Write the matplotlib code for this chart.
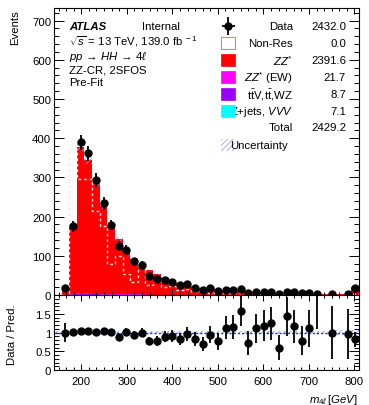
import numpy as np
import matplotlib
matplotlib.use("Agg")
import matplotlib.pyplot as plt
from matplotlib.patches import Rectangle
from matplotlib.ticker import MultipleLocator, FixedLocator

plt.rcParams['font.family'] = 'Liberation Sans'
plt.rcParams['mathtext.fontset'] = 'custom'
plt.rcParams['mathtext.rm'] = 'Liberation Sans'
plt.rcParams['mathtext.it'] = 'Liberation Sans:italic'
plt.rcParams['mathtext.bf'] = 'Liberation Sans:bold'
plt.rcParams['hatch.linewidth'] = 0.6
plt.rcParams['axes.linewidth'] = 0.8

FS = 8.2

# m4l binning: 40 bins, 140 - 810 GeV
edges = np.linspace(140, 810, 41)
centers = 0.5 * (edges[1:] + edges[:-1])

# Observed events per bin
data = [0, 17, 175, 389, 361, 293, 234, 179, 126, 116,
        86, 77, 49, 41, 39, 32, 25, 27, 18, 13,
        17, 11, 13, 13, 15, 5, 8, 8, 8, 3,
        7, 7, 4, 5, 3, 0, 2, 0, 2, 17]
data_err = [0, 4.1, 13.2, 19.7, 19.0, 17.1, 15.3, 13.4, 11.2, 10.8,
            9.3, 8.8, 7.0, 6.4, 6.2, 5.7, 5.0, 5.2, 4.2, 3.6,
            4.1, 3.3, 3.6, 3.6, 3.9, 2.2, 2.8, 2.8, 2.8, 1.7,
            2.6, 2.6, 2.0, 2.2, 1.7, 0, 1.4, 0, 1.4, 4.1]

# Background components (stacked, bottom to top)
zjets = [0, 0.3, 0.6, 0.8, 0.8, 0.7, 0.6, 0.5, 0.5, 0.4,
         0.3, 0.3, 0.2, 0.2, 0.2, 0.1, 0.1, 0.1, 0.1, 0.1,
         0.1, 0.1, 0.1, 0.1, 0.1, 0.1, 0.1, 0.1, 0.1, 0.0,
         0.0, 0.0, 0.0, 0.0, 0.0, 0.0, 0.0, 0.0, 0.0, 0.1]
ttv = [0, 0.1, 0.5, 0.9, 0.9, 0.8, 0.7, 0.6, 0.6, 0.5,
       0.4, 0.4, 0.3, 0.3, 0.3, 0.2, 0.2, 0.2, 0.2, 0.1,
       0.1, 0.1, 0.1, 0.1, 0.1, 0.0, 0.0, 0.0, 0.0, 0.0,
       0.0, 0.0, 0.0, 0.0, 0.0, 0.0, 0.0, 0.0, 0.0, 0.0]
ew = [0, 0.2, 1.2, 2.5, 2.6, 2.3, 2.0, 1.7, 1.5, 1.3,
      1.1, 0.9, 0.8, 0.5, 0.4, 0.3, 0.3, 0.2, 0.2, 0.2,
      0.2, 0.2, 0.1, 0.1, 0.1, 0.1, 0.1, 0.1, 0.1, 0.1,
      0.1, 0.1, 0.1, 0.1, 0.0, 0.0, 0.0, 0.0, 0.0, 0.2]
zz = [0.5, 16.4, 170.7, 373.8, 339.7, 283.2, 223.7, 172.2, 140.4, 111.8,
      90.2, 75.4, 61.7, 52.0, 43.1, 34.4, 29.9, 27.5, 21.5, 18.6,
      17.6, 13.9, 11.2, 11.0, 9.2, 6.8, 7.0, 6.6, 6.2, 5.0,
      4.8, 5.9, 5.0, 4.4, 1.2, 2.5, 2.0, 2.0, 2.1, 20.4]
nonres = [0, 0, 372, 296, 296, 215, 177, 79, 100, 54,
          32, 75, 25, 35, 20, 22, 12, 15, 8, 10,
          6, 8, 4, 5, 4, 3, 3, 3, 2, 2,
          2, 2, 1, 1, 1, 1, 1, 1, 1, 3]
unc_rel = [0.05, 0.04, 0.03, 0.03, 0.03, 0.03, 0.03, 0.03, 0.03, 0.03,
           0.03, 0.03, 0.03, 0.03, 0.03, 0.03, 0.03, 0.03, 0.03, 0.03,
           0.03, 0.03, 0.03, 0.03, 0.03, 0.04, 0.04, 0.04, 0.04, 0.04,
           0.04, 0.04, 0.05, 0.05, 0.05, 0.05, 0.05, 0.06, 0.06, 0.06]

legend_labels = ["Data", "Non-Res", r"$ZZ^{*}$", r"$ZZ^{*}$ (EW)",
                 r"$\mathrm{t\bar{t}}$V,$\mathrm{t\bar{t}}$,WZ",
                 r"Z+jets, $VVV$", "Total", "Uncertainty"]
legend_values = ["2432.0", "0.0", "2391.6", "21.7", "8.7", "7.1", "2429.2", ""]

data = np.array(data, float)
data_err = np.array(data_err, float)
components = [(zjets, '#00ffff'), (ttv, '#9900ff'), (ew, '#ff00ff'), (zz, '#ff0000')]

fig = plt.figure(figsize=(3.69, 4.06), dpi=100)
ax = fig.add_axes([0.1463, 0.2709, 0.8266, 0.7069])
ax2 = fig.add_axes([0.1463, 0.0862, 0.8266, 0.1847], sharex=ax)

# stacked histogram
bottom = np.zeros(40)
for vals, col in components:
    vals = np.array(vals, float)
    ax.stairs(bottom + vals, edges, baseline=bottom, fill=True, color=col, linewidth=0)
    bottom = bottom + vals
total = bottom

# non-resonant shape, dashed
ax.stairs(nonres, edges, color='#ffe0e0', linestyle=(0, (2, 2)), linewidth=1.0)

# uncertainty band
unc = total * np.array(unc_rel)
lo = np.append(total - unc, (total - unc)[-1])
hi = np.append(total + unc, (total + unc)[-1])
ax.fill_between(edges, lo, hi, step='post', facecolor='none',
                edgecolor='#8c8cf0', hatch='//////', linewidth=0)

# data
m = data > 0
ax.errorbar(centers[m], data[m], yerr=data_err[m], fmt='o', color='black',
            ms=5, elinewidth=1.3, capsize=0, clip_on=False, zorder=5)

ax.set_xlim(140, 810)
ax.set_ylim(0, 732)
ax.yaxis.set_major_locator(MultipleLocator(100))
ax.yaxis.set_minor_locator(MultipleLocator(20))
ax.xaxis.set_major_locator(MultipleLocator(100))
ax.xaxis.set_minor_locator(MultipleLocator(100 / 6))
ax.tick_params(axis='both', which='both', direction='in', top=True, right=True,
               labelsize=FS, width=0.7, pad=2)
ax.tick_params(axis='y', which='major', length=7)
ax.tick_params(axis='y', which='minor', length=3.5)
ax.tick_params(axis='x', which='major', length=4)
ax.tick_params(axis='x', which='minor', length=2)
ax.tick_params(axis='x', labelbottom=False)

# text block
tx = dict(transform=ax.transAxes, fontsize=FS, va='center')
ax.text(0.049, 0.937, "ATLAS", fontweight='bold', style='italic', **tx)
ax.text(0.289, 0.937, "Internal", **tx)
ax.text(0.049, 0.885, r"$\sqrt{s}$ = 13 TeV, 139.0 fb$^{\ -1}$", **tx)
ax.text(0.049, 0.833, r"$pp\,\rightarrow\,HH\,\rightarrow\,4\ell$", **tx)
ax.text(0.049, 0.787, "ZZ-CR, 2SFOS", **tx)
ax.text(0.049, 0.742, "Pre-Fit", **tx)

# legend
rows = [0.937, 0.878, 0.819, 0.760, 0.700, 0.641, 0.585, 0.523]
bx, bw, bh = 0.549, 0.0436, 0.042
for i, (lab, val) in enumerate(zip(legend_labels, legend_values)):
    y = rows[i]
    if lab == "Uncertainty":
        ax.text(0.577, y, lab, ha='left', **tx)
    else:
        ax.text(0.784, y, lab, ha='right', **tx)
    ax.text(0.957, y, val, ha='right', **tx)
ax.errorbar([0.572], [rows[0]], xerr=[0.02], yerr=[0.03], fmt='o', color='black',
            ms=5, elinewidth=1.3, capsize=0, transform=ax.transAxes, clip_on=False)
ax.add_patch(Rectangle((bx, rows[1] - bh / 2), bw, bh, transform=ax.transAxes,
                       facecolor='white', edgecolor='#e08080', linewidth=0.8))
for k, (vals, col) in enumerate(reversed(components)):
    ax.add_patch(Rectangle((bx, rows[2 + k] - bh / 2), bw, bh, transform=ax.transAxes,
                           facecolor=col, edgecolor=col, linewidth=0.5, zorder=6))
ax.add_patch(Rectangle((bx, rows[7] - bh / 2), bw, bh, transform=ax.transAxes,
                       facecolor='none', edgecolor='#a0a0f0', hatch='//////', linewidth=0))

# ratio panel
r = np.where(m, data / np.where(total > 0, total, 1), 0)
r_err = np.where(m, data_err / np.where(total > 0, total, 1), 0)
rlo = np.append(1 - np.array(unc_rel), 1 - unc_rel[-1])
rhi = np.append(1 + np.array(unc_rel), 1 + unc_rel[-1])
ax2.fill_between(edges, rlo, rhi, step='post', facecolor='none',
                 edgecolor='#8c8cf0', hatch='//////', linewidth=0)
ax2.axhline(1, color='#2a2ad0', linestyle=(0, (1.5, 1.5)), linewidth=1.0)
ax2.errorbar(centers[m], r[m], yerr=r_err[m], fmt='o', color='black',
             ms=5, elinewidth=1.3, capsize=0, zorder=5)
ax2.set_ylim(0, 2)
ax2.yaxis.set_major_locator(FixedLocator([0, 0.5, 1, 1.5]))
ax2.set_yticklabels(["0", "0.5", "1", "1.5"])
ax2.yaxis.set_minor_locator(MultipleLocator(0.1))
ax2.tick_params(axis='both', which='both', direction='in', top=True, right=True,
                labelsize=FS, width=0.7, pad=2)
ax2.tick_params(axis='y', which='major', length=7)
ax2.tick_params(axis='y', which='minor', length=3.5)
ax2.tick_params(axis='x', which='major', length=4, pad=4)
ax2.tick_params(axis='x', which='minor', length=2)
ax2.set_xticks([200, 300, 400, 500, 600, 700, 800])
ax2.set_xlim(140, 810)

fig.text(0.04, 0.975, "Events", rotation=90, ha='center', va='top', fontsize=FS)
fig.text(0.033, 0.175, "Data / Pred.", rotation=90, ha='center', va='center', fontsize=FS)
fig.text(0.970, 0.015, r"$m_{4\ell}\,[GeV]$", ha='right', va='center', fontsize=FS)

fig.savefig("out.png", dpi=100)
